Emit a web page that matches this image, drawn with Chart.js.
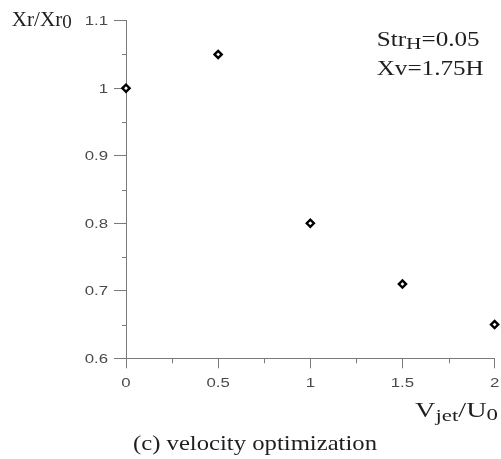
<!DOCTYPE html>
<html>
<head>
<meta charset="utf-8">
<script src="https://cdn.jsdelivr.net/npm/chart.js@4/dist/chart.umd.min.js"></script>
<style>
  html, body { margin: 0; padding: 0; background: #fff; }
  canvas { display: block; }
</style>
</head>
<body>
<canvas id="chart" width="501" height="459"></canvas>
<script>
// jet velocity ratio vs. reattachment length ratio
const vjet   = [0, 0.5, 1, 1.5, 2];
const xrRatio = [1, 1.05, 0.8, 0.71, 0.65];

const xTicks = [0, 0.5, 1, 1.5, 2];
const yTicks = [0.6, 0.7, 0.8, 0.9, 1, 1.1];
const xMinor = [0.25, 0.75, 1.25, 1.75];
const yMinor = [0.65, 0.75, 0.85, 0.95, 1.05];

const AXIS = '#7a7a7a';
const LABEL = '#4a4a4a';
const INK = '#1e1e1e';
const SERIF = '"Liberation Serif", "DejaVu Serif", serif';
const SANS = '"Liberation Sans", Arial, sans-serif';

// draws a run of text pieces [text, size, dy], squeezed/stretched to a given width
function drawRich(ctx, parts, x0, base, width) {
  ctx.save();
  let natural = 0;
  parts.forEach(p => { ctx.font = `${p[1]}px ${SERIF}`; natural += ctx.measureText(p[0]).width; });
  ctx.translate(x0, base);
  ctx.scale(width / natural, 1);
  ctx.fillStyle = INK;
  ctx.textBaseline = 'alphabetic';
  ctx.textAlign = 'left';
  let cx = 0;
  parts.forEach(p => {
    ctx.font = `${p[1]}px ${SERIF}`;
    ctx.fillText(p[0], cx, p[2]);
    cx += ctx.measureText(p[0]).width;
  });
  ctx.restore();
}

function wideLabel(ctx, text, x, y, align) {
  ctx.save();
  ctx.translate(x, y);
  ctx.scale(1.4, 1);
  ctx.font = `12px ${SANS}`;
  ctx.fillStyle = LABEL;
  ctx.textAlign = align;
  ctx.textBaseline = 'middle';
  ctx.fillText(text, 0, 0);
  ctx.restore();
}

const decor = {
  id: 'decor',
  afterDraw(chart) {
    const { ctx, chartArea, scales: { x, y } } = chart;
    ctx.save();
    ctx.strokeStyle = AXIS;
    ctx.lineWidth = 1;
    ctx.beginPath();
    yMinor.forEach(v => {
      const py = Math.round(y.getPixelForValue(v)) + 0.5;
      ctx.moveTo(chartArea.left - 4, py);
      ctx.lineTo(chartArea.left, py);
    });
    xMinor.forEach(v => {
      const px = Math.round(x.getPixelForValue(v)) + 0.5;
      ctx.moveTo(px, chartArea.bottom);
      ctx.lineTo(px, chartArea.bottom + 5);
    });
    ctx.stroke();
    ctx.restore();

    yTicks.forEach(v => wideLabel(ctx, String(v), chartArea.left - 18, y.getPixelForValue(v) + 1, 'right'));
    xTicks.forEach(v => wideLabel(ctx, String(v), x.getPixelForValue(v), chartArea.bottom + 25, 'center'));

    drawRich(ctx, [['Xr/Xr', 20, 0], ['0', 18, 2]], 11.7, 25.7, 60);
    drawRich(ctx, [['Str', 20, 0], ['H', 17, 3], ['=0.05', 20, 0]], 376.7, 46, 103);
    drawRich(ctx, [['Xv=1.75H', 20, 0]], 376.7, 75, 107);
    drawRich(ctx, [['V', 21, 0], ['jet', 17, 4], ['/U', 21, 0], ['0', 17, 3]], 415, 416.7, 83);
    drawRich(ctx, [['(c) velocity optimization', 22, 0]], 133, 450, 244);
  }
};

new Chart(document.getElementById('chart'), {
  type: 'scatter',
  data: {
    datasets: [{
      data: vjet.map((v, i) => ({ x: v, y: xrRatio[i] })),
      pointStyle: 'rectRot',
      pointRadius: 3.6,
      pointBorderWidth: 2.4,
      pointBorderColor: '#000',
      pointBackgroundColor: '#fff',
      clip: false
    }]
  },
  options: {
    responsive: false,
    animation: false,
    layout: { padding: { left: 0, right: 6, top: 20.7, bottom: 0 } },
    plugins: { legend: { display: false }, tooltip: { enabled: false } },
    scales: {
      x: {
        type: 'linear', min: 0, max: 2,
        afterBuildTicks: s => { s.ticks = xTicks.map(v => ({ value: v })); },
        afterFit: s => { s.height = 100.7; },
        ticks: { display: false },
        grid: { drawOnChartArea: false, drawTicks: true, tickLength: 10, color: AXIS },
        border: { display: true, color: AXIS, width: 1 }
      },
      y: {
        type: 'linear', min: 0.6, max: 1.1,
        afterBuildTicks: s => { s.ticks = yTicks.map(v => ({ value: v })); },
        afterFit: s => { s.width = 126; },
        ticks: { display: false },
        grid: { drawOnChartArea: false, drawTicks: true, tickLength: 12, color: AXIS },
        border: { display: true, color: AXIS, width: 1 }
      }
    }
  },
  plugins: [decor]
});
</script>
</body>
</html>
